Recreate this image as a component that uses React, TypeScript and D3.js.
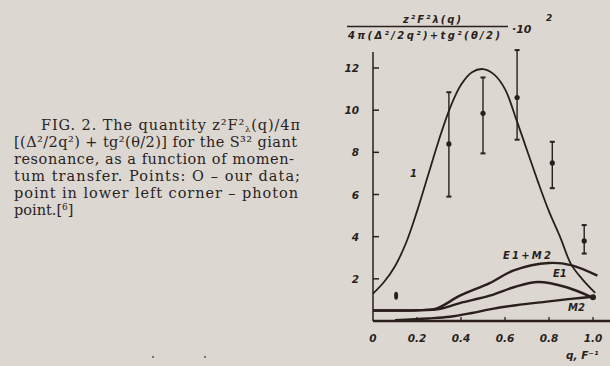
import React from "react";
import * as d3 from "d3";

const W = 610;
const H = 366;

// Curve 1 (total)
const curve1Q = [0, 0.05, 0.1, 0.15, 0.2, 0.25, 0.3, 0.35, 0.4, 0.45, 0.5, 0.55, 0.6, 0.65, 0.7, 0.75, 0.8, 0.85, 0.9, 0.95, 1.01];
const curve1V = [1.3, 1.85, 2.6, 3.7, 5.2, 6.9, 8.6, 10.1, 11.2, 11.8, 11.95, 11.7, 11.0, 9.6, 8.1, 6.6, 5.2, 4.0, 2.7, 2.0, 1.33];

// E1 + M2
const e1m2Q = [0, 0.1, 0.2, 0.29, 0.395, 0.53, 0.64, 0.8, 0.9, 1.02];
const e1m2V = [0.5, 0.5, 0.51, 0.6, 1.2, 1.8, 2.4, 2.75, 2.65, 2.15];

// E1
const e1Q = [0, 0.1, 0.2, 0.3, 0.395, 0.53, 0.64, 0.75, 0.88, 1.0];
const e1V = [0.5, 0.5, 0.51, 0.57, 0.85, 1.2, 1.6, 1.85, 1.6, 1.1];

// M2
const m2Q = [0.1, 0.25, 0.35, 0.45, 0.53, 0.65, 0.79, 0.9, 1.0];
const m2V = [0.04, 0.12, 0.2, 0.38, 0.55, 0.75, 0.92, 1.05, 1.15];

// Experimental points
const ptQ = [0.345, 0.5, 0.655, 0.815, 0.96];
const ptV = [8.4, 9.85, 10.6, 7.5, 3.8];
const ptLo = [5.9, 7.95, 8.6, 6.3, 3.2];
const ptHi = [10.85, 11.55, 12.85, 8.5, 4.55];

// Photon point
const photonQ = 0.105;
const photonV = 1.2;

const yTicks = [2, 4, 6, 8, 10, 12];
const xTicks = [0, 0.2, 0.4, 0.6, 0.8, 1.0];
const xTickLabels = ["0", "0.2", "0.4", "0.6", "0.8", "1.0"];

const captionLines = [
  "[(Δ²/2q²) + tg²(θ/2)] for the S³² giant",
  "resonance, as a function of momen-",
  "tum transfer. Points: O – our data;",
  "point in lower left corner – photon",
];
const captionWidths = [283, 280, 286, 284];

export default function App() {
  const x = d3.scaleLinear().domain([0, 1]).range([373, 593]);
  const y = d3.scaleLinear().domain([0, 12]).range([321, 68]);
  const ink = "#2a1f1d";
  const bg = "#dcd8d1";

  const line = d3
    .line<[number, number]>()
    .x((d) => x(d[0]))
    .y((d) => y(d[1]))
    .curve(d3.curveCatmullRom.alpha(0.5));

  const zip = (a: number[], b: number[]) => a.map((q, i) => [q, b[i]] as [number, number]);

  const tickFont = "'DejaVu Sans', sans-serif";

  return (
    <svg width={W} height={H} style={{ position: "absolute", left: 0, top: 0, background: bg }}>
      <rect x={0} y={0} width={W} height={H} fill={bg} />

      {/* Caption */}
      <g fill="#2b2322" fontFamily="'DejaVu Serif', serif" fontSize={14.5}>
        <text x={41} y={130} textLength={259} lengthAdjust="spacing">
          FIG. 2. The quantity z²F²
          <tspan fontSize={8} dy={2}>λ</tspan>
          <tspan dy={-2}>(q)/4π</tspan>
        </text>
        {captionLines.map((t, i) => (
          <text key={i} x={14} y={147 + i * 17} textLength={captionWidths[i]} lengthAdjust="spacing">
            {t}
          </text>
        ))}
        <text x={14} y={215}>
          point.[<tspan fontSize={9} dy={-5}>6</tspan>
          <tspan dy={5}>]</tspan>
        </text>
      </g>

      {/* Y-axis title (fraction) */}
      <g fill={ink} fontFamily={tickFont} fontStyle="italic" fontWeight="bold">
        <text x={432} y={23} fontSize={10} textAnchor="middle" textLength={58} lengthAdjust="spacing">
          z²F²λ(q)
        </text>
        <line x1={347} x2={508} y1={26.5} y2={26.5} stroke={ink} strokeWidth={1.6} />
        <text x={348} y={39} fontSize={10} textLength={152} lengthAdjust="spacing">
          4π(Δ²/2q²)+tg²(θ/2)
        </text>
        <text x={512} y={33} fontSize={11}>·10</text>
        <text x={546} y={21} fontSize={9}>2</text>
      </g>

      {/* Axes */}
      <line x1={x(0)} x2={x(0)} y1={y(0)} y2={52} stroke={ink} strokeWidth={1.5} />
      <line x1={x(0)} x2={W} y1={y(0)} y2={y(0)} stroke={ink} strokeWidth={2.6} />
      {yTicks.map((t) => (
        <g key={t}>
          <line x1={x(0)} x2={x(0) + 6} y1={y(t)} y2={y(t)} stroke={ink} strokeWidth={1.5} />
          <text
            x={x(0) - 14}
            y={y(t) + 4}
            textAnchor="end"
            fontFamily={tickFont}
            fontStyle="italic"
            fontWeight="bold"
            fontSize={10.5}
            fill={ink}
          >
            {t}
          </text>
        </g>
      ))}
      {xTicks.map((t, i) => (
        <g key={t}>
          {i > 0 && <line x1={x(t)} x2={x(t)} y1={y(0)} y2={y(0) - 4} stroke={ink} strokeWidth={1.3} />}
          <text
            x={x(t)}
            y={342}
            textAnchor="middle"
            fontFamily={tickFont}
            fontStyle="italic"
            fontWeight="bold"
            fontSize={10.5}
            fill={ink}
          >
            {xTickLabels[i]}
          </text>
        </g>
      ))}
      <text x={566} y={359} fontFamily={tickFont} fontStyle="italic" fontWeight="bold" fontSize={10.5} fill={ink}>
        q, F⁻¹
      </text>

      {/* Theoretical curves */}
      <path d={line(zip(curve1Q, curve1V)) || ""} fill="none" stroke={ink} strokeWidth={1.8} />
      <path d={line(zip(e1m2Q, e1m2V)) || ""} fill="none" stroke={ink} strokeWidth={2.4} />
      <path d={line(zip(e1Q, e1V)) || ""} fill="none" stroke={ink} strokeWidth={2.4} />
      <path d={line(zip(m2Q, m2V)) || ""} fill="none" stroke={ink} strokeWidth={2.4} />
      <circle cx={x(1.0)} cy={y(1.13)} r={3} fill={ink} />

      {/* Curve labels */}
      <g fill={ink} fontFamily={tickFont} fontStyle="italic" fontWeight="bold" fontSize={10}>
        <text x={410} y={177}>1</text>
        <text x={503} y={259} textLength={48} lengthAdjust="spacing">E1+M2</text>
        <text x={553} y={277}>E1</text>
        <text x={568} y={311}>M2</text>
      </g>

      {/* Experimental points */}
      {ptQ.map((q, i) => (
        <g key={i} stroke={ink} strokeWidth={1.4}>
          <line x1={x(q)} x2={x(q)} y1={y(ptLo[i])} y2={y(ptHi[i])} />
          <line x1={x(q) - 2.5} x2={x(q) + 2.5} y1={y(ptLo[i])} y2={y(ptLo[i])} strokeWidth={2} />
          <line x1={x(q) - 2.5} x2={x(q) + 2.5} y1={y(ptHi[i])} y2={y(ptHi[i])} strokeWidth={2} />
          <circle cx={x(q)} cy={y(ptV[i])} r={2.6} fill={ink} stroke="none" />
        </g>
      ))}
      <ellipse cx={x(photonQ)} cy={y(photonV)} rx={2} ry={4} fill={ink} />

      {/* Specks */}
      <circle cx={153} cy={357} r={1} fill="#555" />
      <circle cx={205} cy={357} r={1} fill="#555" />
    </svg>
  );
}
